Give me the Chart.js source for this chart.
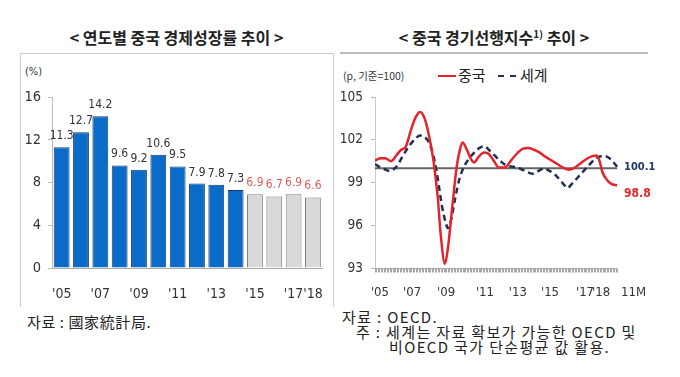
<!DOCTYPE html>
<html><head><meta charset="utf-8">
<script src="https://cdn.jsdelivr.net/npm/chart.js@4.4.1/dist/chart.umd.min.js"></script>
<style>
body{margin:0;width:680px;height:377px;background:#fff;position:relative;overflow:hidden;font-family:'Noto Sans CJK KR',sans-serif;color:#222}
.abs{position:absolute;white-space:nowrap}
.fn{font-size:15px;letter-spacing:1.35px;color:#222;line-height:15px}
canvas{position:absolute}
</style></head><body>
<div class="abs" style="left:20px;top:25px;width:313px;text-align:center;font-size:16px;font-weight:bold;color:#222">&lt; 연도별 중국 경제성장률 추이 &gt;</div>
<div class="abs" style="left:340px;top:25px;width:308px;text-align:center;font-size:16px;font-weight:bold;color:#222">&lt; 중국 경기선행지수<span style="font-size:10px;position:relative;top:-6px">1)</span> 추이 &gt;</div>
<div class="abs" style="left:20px;top:53px;width:312px;height:253px;border:1px solid #ccc;border-bottom:none"></div>
<div class="abs" style="left:340px;top:52px;width:308px;height:0;border-top:2px solid #bbb"></div>
<div class="abs" style="left:25px;top:65px;font-size:11px;color:#333;font-family:'Liberation Sans Narrow','DejaVu Sans Condensed',sans-serif">(%)</div>
<div class="abs" style="left:343px;top:68px;font-size:10.5px;color:#333">(p, 기준=100)</div>
<div class="abs" style="left:438px;top:75px;width:18px;height:0;border-top:2.5px solid #e3242b"></div>
<div class="abs" style="left:458px;top:64px;font-size:15px;color:#222">중국</div>
<div class="abs" style="left:498px;top:75px;width:18px;height:0;border-top:2.5px dashed #1f3050"></div>
<div class="abs" style="left:520px;top:64px;font-size:15px;color:#222">세계</div>
<div class="abs" style="left:27px;top:311px;font-size:15px;letter-spacing:0.6px;color:#222">자료 : 國家統計局.</div>
<div class="abs fn" style="left:342px;top:309px">자료 : OECD.</div>
<div class="abs fn" style="left:356px;top:324px">주 : 세계는 자료 확보가 가능한 OECD 및</div>
<div class="abs fn" style="left:389px;top:339px">비OECD 국가 단순평균 값 활용.</div>
<canvas id="c1" width="313" height="245" style="left:20px;top:60px;width:313px;height:245px"></canvas>
<canvas id="c2" width="340" height="245" style="left:340px;top:60px;width:340px;height:245px"></canvas>
<script>
// ---- left chart data ----
const years = [2005,2006,2007,2008,2009,2010,2011,2012,2013,2014,2015,2016,2017,2018];
const growth = [11.3,12.7,14.2,9.6,9.2,10.6,9.5,7.9,7.8,7.3,6.9,6.7,6.9,6.6];
const yearTickLabels = ["'05","","'07","","'09","","'11","","'13","","'15","","'17","'18"];
const growthTicks = [0,4,8,12,16];

// ---- right chart data (month index from Jan 2005) ----
const cnMonths = [0,4,7,11,15,18,21,25,28,31,34,37,40,43,45,48,50,53,56,58,60,63,66,68,71,75,78,81,85,89,93,97,101,105,109,113,117,121,125,129,133,137,141,145,149,152,154,156,159,162,166];
const cnValues = [100.55,100.7,100.7,100.5,100.95,101.3,101.5,102.8,103.6,103.95,103.5,102.3,100.6,98.0,95.4,93.3,94.4,97.3,100.1,101.2,101.8,101.3,100.6,100.4,100.8,101.1,101.0,100.6,100.05,100.05,100.5,101.0,101.35,101.42,101.3,101.1,100.8,100.55,100.3,100.05,99.9,100.05,100.35,100.65,100.85,100.9,100.5,99.7,99.2,98.9,98.8];
const wdMonths = [0,3,6,10,13,16,19,23,27,31,34,37,40,43,46,49,50,52,55,58,61,64,68,72,75,78,82,86,90,95,100,104,108,112,116,119,123,127,130,132,135,139,143,147,151,155,158,162,166];
const wdValues = [100.3,100.1,99.95,99.8,99.95,100.3,100.85,101.5,102.0,102.3,102.2,101.8,100.9,99.3,97.3,96.0,95.8,96.3,97.9,99.3,100.1,100.6,101.1,101.45,101.55,101.3,100.9,100.5,100.2,100.1,99.95,99.75,99.62,99.8,100.0,99.85,99.6,99.15,98.8,98.62,98.9,99.35,99.8,100.25,100.65,100.85,100.85,100.6,100.1];
const baseMonths = [0,166];
const baseValues = [100,100];
const xTickMonths = [3.4,25.4,48.7,75.4,98,120,144,155,177.3];
const xTickLabels = ["'05","'07","'09","'11","'13","'15","'17","'18","11M"];
const lviTicks = [93,96,99,102,105];
const axisEndMonth = 166;

const NARROW = "'Liberation Sans Narrow','DejaVu Sans Condensed',sans-serif";

const barLabels = {
  id:'barLabels',
  afterDatasetsDraw(chart){
    const ctx = chart.ctx, meta = chart.getDatasetMeta(0);
    ctx.save();
    ctx.font = '12px ' + NARROW;
    ctx.textAlign = 'center'; ctx.textBaseline = 'alphabetic';
    meta.data.forEach((bar,i)=>{
      ctx.fillStyle = i >= 10 ? '#e05a5a' : '#333';
      ctx.fillText(growth[i].toFixed(1), bar.x, bar.y - 8);
    });
    ctx.restore();
  }
};

new Chart(document.getElementById('c1'), {
  type:'bar',
  data:{labels: years, datasets:[{
    data: growth,
    backgroundColor: growth.map((v,i)=> i>=10 ? '#d9d9d9' : '#0a6cc8'),
    borderColor: growth.map((v,i)=> i>=10 ? '#808080' : '#1c3a66'),
    borderWidth: 1, borderSkipped: 'bottom',
    barPercentage: 0.82, categoryPercentage: 1.0
  }]},
  options:{
    responsive:false, animation:false, events:[],
    layout:{padding:{top:37,right:9,left:0,bottom:0}},
    plugins:{legend:{display:false}, tooltip:{enabled:false}},
    scales:{
      x:{ grid:{display:false}, border:{display:true,color:'#aaa',width:1},
          afterFit(s){ s.height = 37; },
          ticks:{ autoSkip:false, maxRotation:0, padding:10, color:'#333',
                  font:{family:NARROW,size:14}, callback:(v,i)=>yearTickLabels[i] } },
      y:{ min:0, max:16, afterFit(s){ s.width = 32; },
          afterBuildTicks(s){ s.ticks = growthTicks.map(v=>({value:v})); },
          grid:{display:true, drawOnChartArea:false, tickLength:4, color:'#bbb'},
          border:{display:true,color:'#bbb',width:1},
          ticks:{ padding:7, color:'#333', font:{family:NARROW,size:14.5} } }
    }
  },
  plugins:[barLabels]
});

const monthAxis = {
  id:'monthAxis',
  beforeDatasetsDraw(chart){
    const xs = chart.scales.x, ys = chart.scales.y, ctx = chart.ctx;
    const y0 = Math.round(ys.getPixelForValue(93)) + 0.5;
    ctx.save();
    ctx.strokeStyle = '#a8a8a8'; ctx.lineWidth = 1;
    ctx.beginPath();
    ctx.moveTo(xs.getPixelForValue(0), y0); ctx.lineTo(xs.getPixelForValue(axisEndMonth), y0);
    for (let m = 0; m <= axisEndMonth; m++){
      const px = Math.round(xs.getPixelForValue(m)) + 0.5;
      ctx.moveTo(px, y0); ctx.lineTo(px, y0 + 4);
    }
    ctx.stroke();
    ctx.restore();
  }
};

const endLabels = {
  id:'endLabels',
  afterDatasetsDraw(chart){
    const xs = chart.scales.x, ys = chart.scales.y, ctx = chart.ctx;
    ctx.save();
    ctx.font = 'bold 11px ' + NARROW; ctx.textAlign = 'left'; ctx.textBaseline = 'middle';
    const lw = wdValues[wdValues.length-1], lc = cnValues[cnValues.length-1];
    const xe = xs.getPixelForValue(axisEndMonth);
    ctx.fillStyle = '#1f3864';
    ctx.fillText(lw.toFixed(1), xe + 7, ys.getPixelForValue(lw));
    ctx.font = 'bold 12px ' + NARROW;
    ctx.fillStyle = '#e3242b';
    ctx.fillText(lc.toFixed(1), xe + 7, ys.getPixelForValue(lc) + 9);
    ctx.restore();
  }
};

const toPts = (xsArr, ysArr) => xsArr.map((m,i)=>({x:m, y:ysArr[i]}));

new Chart(document.getElementById('c2'), {
  type:'line',
  data:{datasets:[
    { label:'중국', data: toPts(cnMonths, cnValues), borderColor:'#e3242b', borderWidth:2.5,
      pointRadius:0, cubicInterpolationMode:'monotone', fill:false },
    { label:'세계', data: toPts(wdMonths, wdValues), borderColor:'#1f3050', borderWidth:2.5,
      borderDash:[6,4], pointRadius:0, cubicInterpolationMode:'monotone', fill:false },
    { label:'base', data: toPts(baseMonths, baseValues), borderColor:'#666', borderWidth:1.8,
      pointRadius:0, tension:0, fill:false }
  ]},
  options:{
    responsive:false, animation:false, events:[],
    layout:{padding:{top:37,right:42.5,left:0,bottom:0}},
    plugins:{legend:{display:false}, tooltip:{enabled:false}},
    scales:{
      x:{ type:'linear', min:0, max:180,
          afterBuildTicks(s){ s.ticks = xTickMonths.map(v=>({value:v})); },
          afterFit(s){ s.height = 37; },
          grid:{display:false}, border:{display:false},
          ticks:{ autoSkip:false, maxRotation:0, padding:9, color:'#333',
                  font:{family:NARROW,size:13}, callback:(v,i)=>xTickLabels[i] } },
      y:{ min:93, max:105, afterFit(s){ s.width = 35; },
          afterBuildTicks(s){ s.ticks = lviTicks.map(v=>({value:v})); },
          grid:{display:true, drawOnChartArea:false, tickLength:4, color:'#bbb'},
          border:{display:true,color:'#ccc',width:1},
          ticks:{ padding:8, color:'#333', font:{family:NARROW,size:13.5} } }
    }
  },
  plugins:[monthAxis, endLabels]
});
</script>
</body></html>
